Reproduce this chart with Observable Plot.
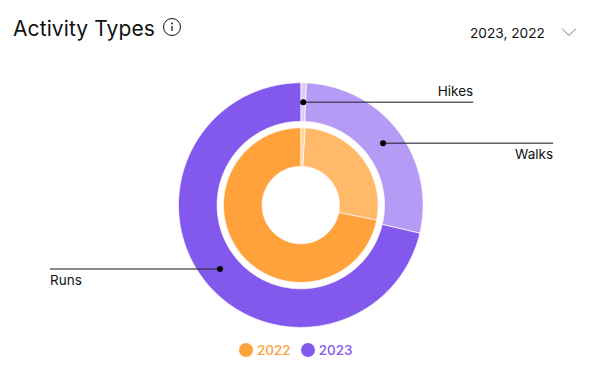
<!DOCTYPE html>
<html>
<head>
<meta charset="utf-8">
<script src="https://cdn.jsdelivr.net/npm/d3@7"></script>
<script src="https://cdn.jsdelivr.net/npm/@observablehq/plot@0.6"></script>
<style>
html,body{margin:0;padding:0;background:#fff;width:598px;overflow:hidden;font-family:Inter,sans-serif;}
#head{position:relative;height:60px;}
#title{position:absolute;left:13px;top:14px;font-size:21px;line-height:30px;color:#111;letter-spacing:.1px;}
#info{position:absolute;left:162px;top:18px;}
#pick{position:absolute;left:470px;top:24px;font-size:13.7px;line-height:18px;color:#111;}
#chev{position:absolute;left:561px;top:27px;}
#legend{display:flex;height:42px;align-items:flex-start;font-size:13.5px;font-weight:500;line-height:20px;padding-left:239px;padding-top:4px;box-sizing:border-box;}
#legend span.k{display:inline-block;width:14px;height:14px;border-radius:50%;margin:3px 4px 0 0;}
#legend span.t{margin-right:10px;}
svg{display:block;}
</style>
</head>
<body>
<div id="head">
  <div id="title">Activity Types</div>
  <svg id="info" width="20" height="20" viewBox="0 0 20 20"><circle cx="10" cy="9" r="8.5" fill="none" stroke="#111" stroke-width="1"/><circle cx="10" cy="5.5" r=".9" fill="#111"/><path d="M10 8v5" stroke="#111" stroke-width="1.2"/></svg>
  <div id="pick">2023, 2022</div>
  <svg id="chev" width="16" height="10" viewBox="0 0 16 10"><path d="M1 1.5l7 7 7-7" fill="none" stroke="#777" stroke-width="1"/></svg>
</div>
<div id="chart"></div>
<div id="legend"></div>
<script>
const categories = ["Hikes", "Walks", "Runs"];
const years = ["2022", "2023"];
const values2022 = [0.9, 27.2, 71.9];
const values2023 = [0.75, 27.95, 71.3];
const colors2022 = ["#ffd3a0", "#ffb969", "#ffa23b"];
const colors2023 = ["#dacdf9", "#b59bf6", "#8358ec"];
const yearColors = ["#ffa23b", "#8358ec"];
const radii2022 = [38.7, 77.3];
const radii2023 = [83.7, 122.3];
const leaderRadius = 103;
const leaderLength = 170;
const labelOffset = [-10, 11.8, 11.8];

const rad = d => d * Math.PI / 180;
function sectors(values, colors, [r0, r1], year) {
  const total = d3.sum(values);
  let cum = 0;
  return values.map((v, i) => {
    const a0 = cum / total * 360;
    cum += v;
    const a1 = cum / total * 360;
    return {year, category: categories[i], color: colors[i], a0, a1, r0, r1, id: year + categories[i]};
  });
}
function ringPoints(s) {
  const n = Math.max(2, Math.ceil((s.a1 - s.a0) / 0.5));
  const angles = d3.range(n + 1).map(i => s.a0 + (s.a1 - s.a0) * i / n);
  const pt = (r, a) => ({id: s.id, color: s.color, x: r * Math.sin(rad(a)), y: -r * Math.cos(rad(a))});
  const pts = [...angles.map(a => pt(s.r1, a)), ...angles.slice().reverse().map(a => pt(s.r0, a))];
  pts.push(pts[0]);
  return pts;
}
const s22 = sectors(values2022, colors2022, radii2022, "2022");
const s23 = sectors(values2023, colors2023, radii2023, "2023");
const poly = [...s22, ...s23].flatMap(ringPoints);
const leaders = s23.map((s, i) => {
  const m = (s.a0 + s.a1) / 2;
  const x1 = leaderRadius * Math.sin(rad(m));
  const y1 = -leaderRadius * Math.cos(rad(m));
  const dir = m > 180 ? -1 : 1;
  return {label: s.category, x1, y1, x2: x1 + dir * leaderLength, y2: y1, dir, off: labelOffset[i]};
});
const textOpts = {x: "x2", y: d => d.y2 + d.off, text: "label", fontFamily: "Inter", fontSize: 13.5, fill: "#111"};

const plot = Plot.plot({
  width: 598, height: 276,
  margin: 0,
  x: {domain: [-300.3, 297.7], range: [0, 598], axis: null},
  y: {domain: [-144.6, 131.4], range: [0, 276], axis: null},
  marks: [
    Plot.line(poly, {x: "x", y: "y", z: "id", fill: "color", stroke: "#fff", strokeWidth: 0.7, curve: "linear", strokeLinejoin: "miter"}),
    Plot.link(leaders, {x1: "x1", y1: "y1", x2: "x2", y2: "y2", stroke: "#2b2b33", strokeOpacity: 0.75, strokeWidth: 1.5}),
    Plot.dot(leaders, {x: "x1", y: "y1", r: 3, fill: "#000"}),
    Plot.text(leaders.filter(d => d.dir > 0), {...textOpts, textAnchor: "end"}),
    Plot.text(leaders.filter(d => d.dir < 0), {...textOpts, textAnchor: "start"})
  ]
});
document.getElementById("chart").append(plot);

const legend = document.getElementById("legend");
years.forEach((y, i) => {
  const k = document.createElement("span"); k.className = "k"; k.style.background = yearColors[i];
  const t = document.createElement("span"); t.className = "t"; t.style.color = yearColors[i]; t.textContent = y;
  legend.append(k, t);
});
</script>
</body>
</html>
